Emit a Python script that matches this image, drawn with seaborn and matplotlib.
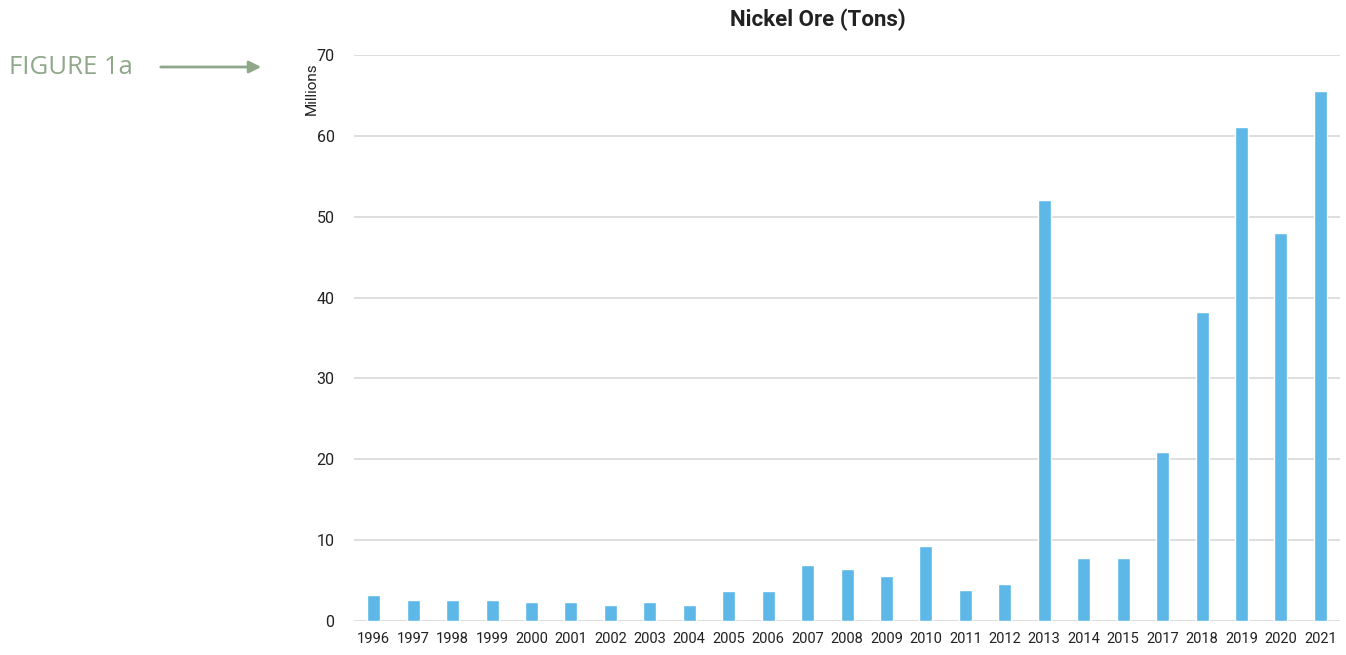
import matplotlib
matplotlib.use('Agg')
import matplotlib.pyplot as plt
import seaborn as sns
import pandas as pd

years = ['1996', '1997', '1998', '1999', '2000', '2001', '2002', '2003', '2004',
         '2005', '2006', '2007', '2008', '2009', '2010', '2011', '2012', '2013',
         '2014', '2015', '2017', '2018', '2019', '2020', '2021']
tons_millions = [3.2, 2.6, 2.6, 2.6, 2.35, 2.35, 2.0, 2.35, 2.0,
                 3.7, 3.7, 6.9, 6.4, 5.6, 9.3, 3.8, 4.6, 52.1,
                 7.8, 7.8, 20.9, 38.2, 61.1, 48.0, 65.5]
y_ticks = [0, 10, 20, 30, 40, 50, 60, 70]

df = pd.DataFrame({'year': years, 'value': tons_millions})

sns.set_theme(style='white')
plt.rcParams['font.family'] = ['Roboto', 'DejaVu Sans']

fig = plt.figure(figsize=(13.46, 6.55), dpi=100)
ax = fig.add_axes([0.263, 0.052, 0.7326, 0.864])

sns.barplot(data=df, x='year', y='value', color='#5db8e8', width=0.33,
            saturation=1, ax=ax, zorder=3)

ax.set_ylim(0, 70)
ax.set_xlim(-0.5, len(years) - 0.5)
ax.set_yticks(y_ticks)
ax.yaxis.grid(True, color='#d4d4d4', linewidth=1.1, zorder=0)
ax.set_axisbelow(True)
for s in ax.spines.values():
    s.set_visible(False)

ax.tick_params(axis='y', length=0, labelsize=11.5, colors='#222222', pad=14)
ax.tick_params(axis='x', length=0, labelsize=10.5, colors='#222222', pad=8)
for lbl in ax.get_xticklabels():
    lbl.set_fontstretch('condensed')

ax.set_xlabel('')
ax.set_ylabel('Millions', fontsize=11, color='#222222')
ax.yaxis.set_label_coords(-0.036, 0.94)

fig.text(818 / 1346, 1 - 20 / 655, 'Nickel Ore (Tons)', fontsize=16, fontweight='bold',
         color='#222222', ha='center', va='center')

fig.text(0.007, 0.897, 'FIGURE 1a', fontsize=18.5, color='#8fa88a', va='center', ha='left',
         fontweight='medium', family=['Open Sans', 'DejaVu Sans'])
fig.patches.append(matplotlib.patches.FancyArrowPatch(
    (158 / 1346, 1 - 67 / 655), (264 / 1346, 1 - 67 / 655), transform=fig.transFigure,
    arrowstyle='-|>', mutation_scale=18, color='#8fa88a', linewidth=2))

fig.savefig('out.png', dpi=100)
